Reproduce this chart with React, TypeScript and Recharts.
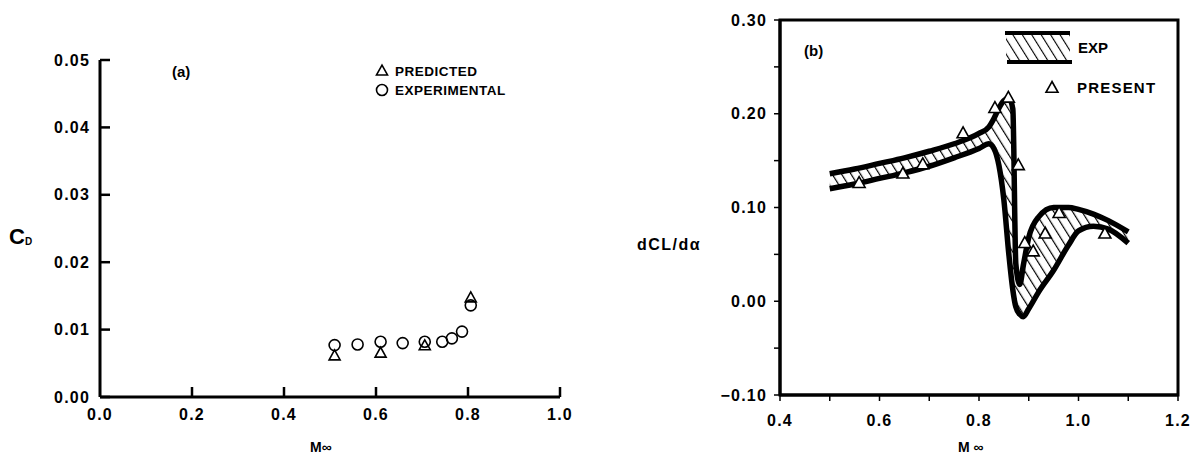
import React from "react";
import { ComposedChart, ScatterChart, Scatter, Line, Area, XAxis, YAxis, ReferenceArea } from "recharts";

const FONT = "'Liberation Sans', Arial, Helvetica, sans-serif";

// (a) drag coefficient vs free-stream Mach number
const expMach = [0.51, 0.56, 0.61, 0.658, 0.706, 0.744, 0.765, 0.787, 0.806];
const expCd = [0.0077, 0.0078, 0.0082, 0.008, 0.0082, 0.0082, 0.0087, 0.0097, 0.0136];
const predMach = [0.51, 0.61, 0.706, 0.806];
const predCd = [0.0061, 0.0065, 0.0076, 0.0147];
const cdTicks = [0, 0.01, 0.02, 0.03, 0.04, 0.05];
const machTicksA = [0, 0.2, 0.4, 0.6, 0.8, 1.0];

// (b) lift-curve slope, experimental band + present results
const bandMach = [0.5, 0.55, 0.6, 0.65, 0.7, 0.75, 0.8, 0.82, 0.83, 0.84, 0.85, 0.86, 0.868, 0.874, 0.882, 0.889, 0.9, 0.92, 0.95, 0.98, 1.0, 1.03, 1.06, 1.1];
const bandUpper = [0.136, 0.141, 0.147, 0.153, 0.16, 0.168, 0.179, 0.186, 0.195, 0.206, 0.214, 0.217, 0.205, 0.04, 0.018, 0.038, 0.068, 0.09, 0.1, 0.1, 0.098, 0.093, 0.086, 0.074];
const bandLower = [0.12, 0.125, 0.131, 0.137, 0.144, 0.153, 0.163, 0.168, 0.163, 0.145, 0.108, 0.05, 0.012, -0.006, -0.014, -0.0165, -0.008, 0.01, 0.033, 0.06, 0.075, 0.08, 0.077, 0.062];
const presentMach = [0.559, 0.647, 0.687, 0.768, 0.832, 0.859, 0.879, 0.892, 0.909, 0.933, 0.961, 1.053];
const presentSlope = [0.126, 0.136, 0.146, 0.179, 0.206, 0.217, 0.145, 0.062, 0.053, 0.072, 0.094, 0.072];
const slopeTicks = [-0.1, -0.05, 0, 0.05, 0.1, 0.15, 0.2, 0.25, 0.3];
const machTicksB = [0.4, 0.5, 0.6, 0.7, 0.8, 0.9, 1.0, 1.1, 1.2];

const expData = expMach.map((m, i) => ({ m, v: expCd[i] }));
const predData = predMach.map((m, i) => ({ m, v: predCd[i] }));
const bandData = bandMach.map((m, i) => ({ m, hi: bandUpper[i], lo: bandLower[i] }));
const presentData = presentMach.map((m, i) => ({ m, v: presentSlope[i] }));
// anchor points for the inward tick marks of panel (a)
const yTickMarks = cdTicks.map((v) => ({ m: 0, v }));
const xTickMarks = machTicksA.slice(1).map((m) => ({ m, v: 0 }));

const tickStyle = { fontFamily: FONT, fontWeight: 700, fontSize: 16, fill: "#000", letterSpacing: 1.2 };

function Tri({ cx, cy, size = 11, fill = "none" }: any) {
  const h = size * 0.9;
  return (
    <polygon
      points={`${cx},${cy - h * 0.6} ${cx - size / 2},${cy + h * 0.4} ${cx + size / 2},${cy + h * 0.4}`}
      fill={fill}
      stroke="#000"
      strokeWidth={1.6}
    />
  );
}

function Ring({ cx, cy }: any) {
  return <circle cx={cx} cy={cy} r={5.5} fill="none" stroke="#000" strokeWidth={1.6} />;
}

const fmtSlope = (v: number) => {
  if (Math.round(v * 100) % 10 !== 0) return "";
  return v < 0 ? "\u2212" + Math.abs(v).toFixed(2) : v.toFixed(2);
};
const fmtMachB = (v: number) => (Math.round(v * 10) % 2 === 0 ? v.toFixed(1) : "");

function ChartA() {
  return (
    <ScatterChart width={600} height={457} margin={{ top: 60, right: 40, left: 0, bottom: 0 }}>
      <XAxis
        type="number"
        dataKey="m"
        domain={[0, 1]}
        ticks={machTicksA}
        tickFormatter={(v: number) => v.toFixed(1)}
        height={60}
        axisLine={{ stroke: "#000", strokeWidth: 3 }}
        tickLine={false}
        tickSize={0}
        tickMargin={12}
        tick={tickStyle}
      />
      <YAxis
        type="number"
        dataKey="v"
        domain={[0, 0.05]}
        ticks={cdTicks}
        tickFormatter={(v: number) => v.toFixed(2)}
        width={100}
        axisLine={{ stroke: "#000", strokeWidth: 3 }}
        tickLine={false}
        tickSize={0}
        tickMargin={10}
        tick={tickStyle}
      />
      <Scatter
        data={yTickMarks}
        isAnimationActive={false}
        shape={(p: any) => <line x1={p.cx} x2={p.cx + 10} y1={p.cy} y2={p.cy} stroke="#000" strokeWidth={2.5} />}
      />
      <Scatter
        data={xTickMarks}
        isAnimationActive={false}
        shape={(p: any) => <line x1={p.cx} x2={p.cx} y1={p.cy} y2={p.cy - 10} stroke="#000" strokeWidth={2.5} />}
      />
      <Scatter data={expData} isAnimationActive={false} shape={(p: any) => <Ring cx={p.cx} cy={p.cy} />} />
      <Scatter data={predData} isAnimationActive={false} shape={(p: any) => <Tri cx={p.cx} cy={p.cy} />} />
    </ScatterChart>
  );
}

function ChartB() {
  return (
    <ComposedChart width={596} height={457} data={bandData} margin={{ top: 20, right: 18, left: 0, bottom: 0 }}>
      <defs>
        <pattern id="hatchB" width="8" height="8" patternUnits="userSpaceOnUse" patternTransform="rotate(-32)">
          <rect width="8" height="8" fill="#fff" />
          <line x1="0" y1="0" x2="0" y2="8" stroke="#000" strokeWidth={2.4} />
        </pattern>
      </defs>
      <XAxis
        type="number"
        dataKey="m"
        domain={[0.4, 1.2]}
        ticks={machTicksB}
        tickFormatter={fmtMachB}
        height={62}
        axisLine={{ stroke: "#000", strokeWidth: 3 }}
        tickLine={{ stroke: "#000", strokeWidth: 1.5 }}
        tickSize={6}
        tickMargin={14}
        tick={tickStyle}
      />
      <YAxis
        type="number"
        domain={[-0.1, 0.3]}
        ticks={slopeTicks}
        tickFormatter={fmtSlope}
        width={180}
        axisLine={{ stroke: "#000", strokeWidth: 3 }}
        tickLine={{ stroke: "#000", strokeWidth: 1.5 }}
        tickSize={6}
        tickMargin={7}
        tick={tickStyle}
      />
      <ReferenceArea x1={0.4} x2={1.2} y1={-0.1} y2={0.3} fill="none" stroke="#000" strokeWidth={3} />
      <Area
        dataKey={(d: any) => [d.lo, d.hi]}
        type="monotone"
        fill="url(#hatchB)"
        fillOpacity={1}
        stroke="none"
        isAnimationActive={false}
      />
      <Line dataKey="hi" type="monotone" stroke="#000" strokeWidth={5.5} dot={false} isAnimationActive={false} />
      <Line dataKey="lo" type="monotone" stroke="#000" strokeWidth={5.5} dot={false} isAnimationActive={false} />
      <Scatter
        data={presentData}
        dataKey="v"
        isAnimationActive={false}
        shape={(p: any) => <Tri cx={p.cx} cy={p.cy} size={12} fill="#fff" />}
      />
    </ComposedChart>
  );
}

function Annotations() {
  const t = { fontFamily: FONT, fontWeight: 700, fill: "#000" } as const;
  return (
    <svg width={1196} height={457} style={{ position: "absolute", left: 0, top: 0, pointerEvents: "none" }}>
      <defs>
        <pattern id="hatchLeg" width="8" height="8" patternUnits="userSpaceOnUse" patternTransform="rotate(-32)">
          <line x1="0" y1="0" x2="0" y2="8" stroke="#000" strokeWidth={2.2} />
        </pattern>
      </defs>
      {/* panel (a) */}
      <text x={9} y={244} fontSize={22} {...t}>
        C<tspan fontSize={10} dy={1}>D</tspan>
      </text>
      <text x={172} y={77} fontSize={15} {...t}>(a)</text>
      <Tri cx={382} cy={71} />
      <text x={395} y={76} fontSize={13.5} letterSpacing={0.5} {...t}>PREDICTED</text>
      <Ring cx={382} cy={90} />
      <text x={395} y={95} fontSize={13.5} letterSpacing={0.5} {...t}>EXPERIMENTAL</text>
      <text x={310} y={452} fontSize={14} {...t}>M∞</text>
      {/* panel (b) */}
      <text x={804} y={56} fontSize={15} {...t}>(b)</text>
      <rect x={1006} y={34} width={64} height={27} fill="url(#hatchLeg)" />
      <line x1={1005} y1={33} x2={1070} y2={33} stroke="#000" strokeWidth={4} />
      <line x1={1007} y1={62} x2={1072} y2={62} stroke="#000" strokeWidth={4} />
      <text x={1078} y={53} fontSize={15} {...t}>EXP</text>
      <Tri cx={1052} cy={88} size={12} />
      <text x={1077} y={93} fontSize={15} letterSpacing={1.2} {...t}>PRESENT</text>
      <text x={637} y={250} fontSize={16} letterSpacing={1.5} {...t}>dCL/dα</text>
      <text x={958} y={452} fontSize={14} {...t}>M ∞</text>
    </svg>
  );
}

export default function App() {
  return (
    <div style={{ position: "absolute", left: 0, top: 0, width: 1196, height: 457, background: "#fff" }}>
      <div style={{ position: "absolute", left: 0, top: 0 }}>
        <ChartA />
      </div>
      <div style={{ position: "absolute", left: 600, top: 0 }}>
        <ChartB />
      </div>
      <Annotations />
    </div>
  );
}
